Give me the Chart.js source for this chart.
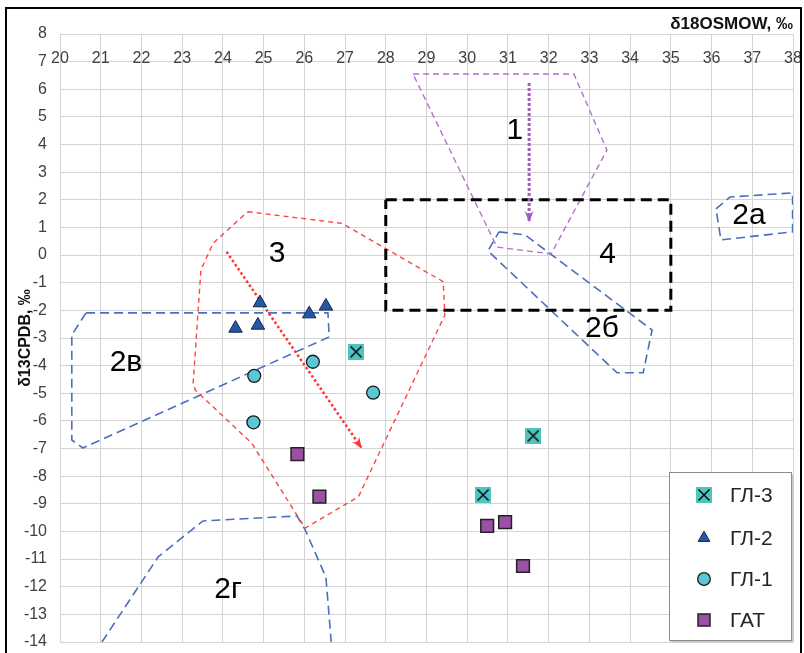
<!DOCTYPE html>
<html>
<head>
<meta charset="utf-8">
<script src="https://cdn.jsdelivr.net/npm/chart.js@4.4.1/dist/chart.umd.min.js"></script>
<style>
  html, body { margin: 0; padding: 0; background: #fff; }
  #wrap { width: 804px; height: 653px; }
</style>
</head>
<body>
<div id="wrap"><canvas id="chart" width="804" height="653"></canvas></div>
<script>
// ---- Isotope measurements (δ18O SMOW, δ13C PDB) ----
const gl3X = [27.27, 31.62, 30.39];
const gl3Y = [-3.50, -6.54, -8.68];
const gl2X = [24.91, 24.31, 24.86, 26.12, 26.53];
const gl2Y = [-1.73, -2.65, -2.54, -2.13, -1.85];
const gl1X = [24.77, 26.21, 27.69, 24.75];
const gl1Y = [-4.37, -3.86, -4.98, -6.05];
const gatX = [25.83, 26.37, 30.49, 30.93, 31.37];
const gatY = [-7.20, -8.74, -9.80, -9.66, -11.25];

// ---- Reference fields (outlines) ----
const zone1X = [28.67, 32.62, 33.43, 32.06, 30.73, 28.67];
const zone1Y = [6.55, 6.55, 3.80, 0.04, 0.29, 6.55];
const zone2aX = [36.11, 36.45, 37.99, 37.99, 36.23, 36.11];
const zone2aY = [1.67, 2.10, 2.25, 0.84, 0.55, 1.67];
const zone2bX = [30.78, 31.42, 34.54, 34.32, 33.68, 30.51, 30.78];
const zone2bY = [0.84, 0.73, -2.71, -4.26, -4.26, 0.15, 0.84];
const zone2vX = [20.64, 26.58, 26.61, 20.56, 20.29, 20.29, 20.64];
const zone2vY = [-2.09, -2.09, -2.96, -6.98, -6.69, -2.89, -2.09];
const zone2gX = [21.03, 22.41, 23.51, 25.82, 26.02, 26.53, 26.66];
const zone2gY = [-14.0, -10.92, -9.62, -9.44, -9.94, -11.65, -14.0];
const zone3X = [24.61, 26.92, 29.41, 29.45, 27.33, 26.02, 24.71, 23.32, 23.27, 23.46, 23.76, 24.61];
const zone3Y = [1.57, 1.15, -0.96, -2.17, -8.74, -9.88, -6.81, -4.88, -4.64, -0.54, 0.43, 1.57];
const zone4X = [28, 35, 35, 28, 28];
const zone4Y = [2, 2, -2, -2, 2];

// ---- Trend arrows ----
const arrow1X = [31.52, 31.52];
const arrow1Y = [6.23, 1.20];
const arrow3X = [24.09, 27.41];
const arrow3Y = [0.12, -6.99];

// ---- Field names and their anchor points ----
const zoneNames = ['1', '2а', '2б', '2в', '2г', '3', '4'];
const zoneNameX = [31.17, 36.92, 33.31, 21.62, 24.13, 25.33, 33.45];
const zoneNameY = [4.49, 1.42, -2.65, -3.90, -12.10, 0.05, 0.0];

// ---- Axis ticks ----
const xMin = 20, xMax = 38, yMin = -14, yMax = 8;

const FONT = "'Liberation Sans', Arial, Helvetica, sans-serif";

function pts(xs, ys) { return xs.map((x, i) => ({ x: x, y: ys[i] })); }

function crossSquare(size) {
  const c = document.createElement('canvas');
  c.width = size; c.height = size;
  const g = c.getContext('2d');
  g.fillStyle = '#4cc4c0';
  g.fillRect(0, 0, size, size);
  g.strokeStyle = '#111';
  g.lineWidth = 1.6;
  g.beginPath();
  g.moveTo(2.5, 2.5); g.lineTo(size - 2.5, size - 2.5);
  g.moveTo(size - 2.5, 2.5); g.lineTo(2.5, size - 2.5);
  g.stroke();
  return c;
}
const gl3Marker = crossSquare(16);

function outline(data, color, width, dash) {
  return {
    data: data, showLine: true, borderColor: color, borderWidth: width,
    borderDash: dash, pointRadius: 0, fill: false, tension: 0, clip: 0
  };
}

const datasets = [
  { label: 'ГЛ-3', data: pts(gl3X, gl3Y), pointStyle: gl3Marker, pointRadius: 8,
    legendShape: 'image' },
  { label: 'ГЛ-2', data: pts(gl2X, gl2Y), pointStyle: 'triangle', pointRadius: 7.8,
    backgroundColor: '#2358a8', borderColor: '#14254a', borderWidth: 1, legendShape: 'triangle' },
  { label: 'ГЛ-1', data: pts(gl1X, gl1Y), pointStyle: 'circle', pointRadius: 6.5,
    backgroundColor: '#5bc6d6', borderColor: '#1a1a1a', borderWidth: 1.3, legendShape: 'circle' },
  { label: 'ГАТ', data: pts(gatX, gatY), pointStyle: 'rect', pointRadius: 9,
    backgroundColor: '#9b50a6', borderColor: '#222', borderWidth: 1.5, legendShape: 'rect' },
  Object.assign(outline(pts(arrow1X, arrow1Y), '#a45cbf', 3, [3, 2]), { arrowHead: '#a45cbf' }),
  Object.assign(outline(pts(arrow3X, arrow3Y), '#ff3333', 2.5, [2.5, 2.5]), { arrowHead: '#ff3333' }),
  outline(pts(zone4X, zone4Y), '#000', 3, [11, 6]),
  outline(pts(zone1X, zone1Y), '#b36fcc', 1.4, [6, 4]),
  outline(pts(zone3X, zone3Y), '#ff4444', 1.4, [5, 4]),
  outline(pts(zone2aX, zone2aY), '#4a6fbf', 1.6, [9, 5]),
  outline(pts(zone2bX, zone2bY), '#4a6fbf', 1.6, [9, 5]),
  outline(pts(zone2vX, zone2vY), '#4a6fbf', 1.6, [9, 5]),
  outline(pts(zone2gX, zone2gY), '#4a6fbf', 1.6, [9, 5])
];

function drawHead(ctx, x0, y0, x1, y1, len, wid, color) {
  const a = Math.atan2(y1 - y0, x1 - x0);
  ctx.save();
  ctx.translate(x1, y1);
  ctx.rotate(a);
  ctx.beginPath();
  ctx.moveTo(0, 0);
  ctx.lineTo(-len, -wid / 2);
  ctx.lineTo(-len * 0.65, 0);
  ctx.lineTo(-len, wid / 2);
  ctx.closePath();
  ctx.fillStyle = color;
  ctx.fill();
  ctx.restore();
}

function legendMarker(ctx, ds, x, y) {
  ctx.save();
  if (ds.legendShape === 'image') {
    ctx.drawImage(ds.pointStyle, x - 8, y - 8);
  } else {
    ctx.fillStyle = ds.backgroundColor;
    ctx.strokeStyle = ds.borderColor;
    ctx.lineWidth = ds.borderWidth;
    ctx.beginPath();
    if (ds.legendShape === 'triangle') {
      const r = 6.8;
      ctx.moveTo(x, y - r);
      ctx.lineTo(x + r * 0.866, y + r / 2);
      ctx.lineTo(x - r * 0.866, y + r / 2);
      ctx.closePath();
    } else if (ds.legendShape === 'circle') {
      ctx.arc(x, y, 6.3, 0, Math.PI * 2);
    } else {
      ctx.rect(x - 6, y - 6, 12, 12);
    }
    ctx.fill();
    ctx.stroke();
  }
  ctx.restore();
}

const decor = {
  id: 'decor',
  beforeDraw(chart) {
    const ctx = chart.ctx;
    ctx.save();
    ctx.fillStyle = '#fff';
    ctx.fillRect(0, 0, chart.width, chart.height);
    ctx.restore();
  },
  afterDatasetsDraw(chart) {
    const ctx = chart.ctx;
    const xs = chart.scales.x, ys = chart.scales.y;
    // arrowheads at the end of trend arrows
    chart.data.datasets.forEach((ds, i) => {
      if (!ds.arrowHead) return;
      const el = chart.getDatasetMeta(i).data;
      const a = el[el.length - 2], b = el[el.length - 1];
      drawHead(ctx, a.x, a.y, b.x, b.y, 11, 9, ds.arrowHead);
    });
    // field names
    ctx.save();
    ctx.fillStyle = '#000';
    ctx.font = '30px ' + FONT;
    ctx.textAlign = 'center';
    ctx.textBaseline = 'middle';
    zoneNames.forEach((t, i) => {
      ctx.fillText(t, xs.getPixelForValue(zoneNameX[i]), ys.getPixelForValue(zoneNameY[i]));
    });
    ctx.restore();
  },
  afterDraw(chart) {
    const ctx = chart.ctx;
    // legend panel
    const L = 669.5, T = 472.5, W = 122, H = 168;
    ctx.save();
    ctx.fillStyle = '#c8c8c8';
    ctx.fillRect(L + 2, T + 2, W, H);
    ctx.fillStyle = '#fff';
    ctx.fillRect(L, T, W, H);
    ctx.strokeStyle = '#8c8c8c';
    ctx.lineWidth = 1;
    ctx.strokeRect(L, T, W, H);
    const rows = chart.data.datasets.filter(d => d.legendShape);
    const rowY = [495, 538, 579, 620];
    ctx.font = '21px ' + FONT;
    ctx.textBaseline = 'middle';
    ctx.textAlign = 'left';
    rows.forEach((ds, i) => {
      legendMarker(ctx, ds, 704, rowY[i]);
      ctx.fillStyle = '#262626';
      ctx.fillText(ds.label, 730, rowY[i] + 1);
    });
    // outer frame
    ctx.strokeStyle = '#000';
    ctx.lineWidth = 2;
    ctx.strokeRect(6, 8, 795, 700);
    ctx.restore();
  }
};

new Chart(document.getElementById('chart'), {
  type: 'scatter',
  data: { datasets: datasets },
  options: {
    responsive: false,
    animation: false,
    events: [],
    layout: { padding: { left: 0, right: 11, top: 0, bottom: 11 } },
    plugins: {
      legend: { display: false },
      tooltip: { enabled: false },
      title: {
        display: true,
        text: 'δ18OSMOW, ‰',
        align: 'end',
        color: '#111',
        font: { family: FONT, size: 17, weight: 'bold', lineHeight: 20 / 17 },
        padding: { top: 14, bottom: 0 }
      }
    },
    scales: {
      x: {
        type: 'linear',
        position: { y: 7 },
        min: xMin, max: xMax,
        afterFit(s) { s.height = 0; },
        border: { display: false },
        grid: { color: '#d4d4d4', lineWidth: 1, drawTicks: false },
        ticks: {
          stepSize: 1, autoSkip: false, maxRotation: 0,
          padding: -12.5, color: '#404040',
          font: { family: FONT, size: 16 }
        }
      },
      y: {
        type: 'linear',
        position: 'left',
        min: yMin, max: yMax,
        afterFit(s) { s.width = 60; s.paddingTop = 0; s.paddingBottom = 0; },
        border: { display: false },
        grid: { color: '#d4d4d4', lineWidth: 1, drawTicks: false },
        title: {
          display: true,
          text: 'δ13CPDB, ‰',
          color: '#111',
          font: { family: FONT, size: 16, weight: 'bold' },
          padding: { top: 16, bottom: 0 }
        },
        ticks: {
          stepSize: 1, autoSkip: false,
          padding: 13, color: '#404040',
          font: { family: FONT, size: 16 }
        }
      }
    }
  },
  plugins: [decor]
});
</script>
</body>
</html>
